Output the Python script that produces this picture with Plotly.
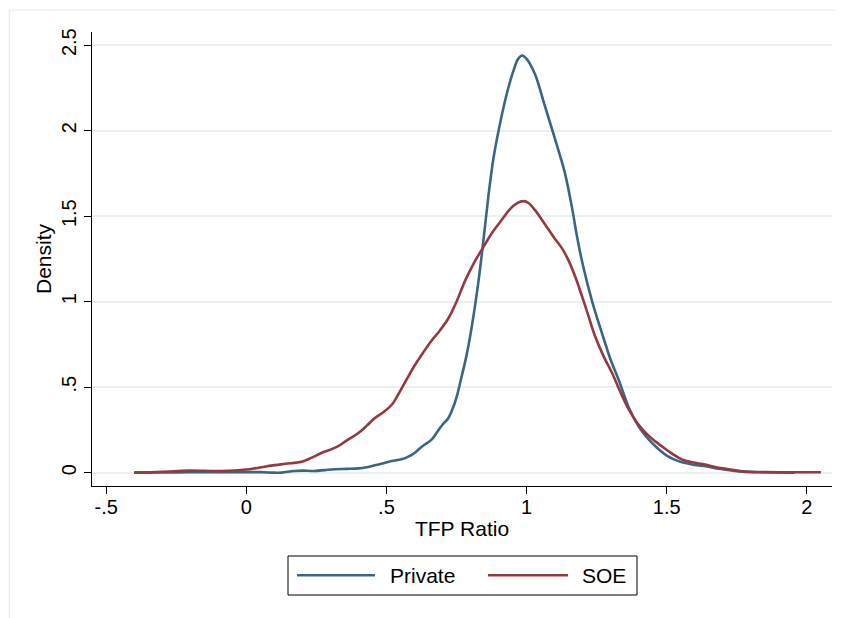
import plotly.graph_objects as go

# ---- data ----
private_x = [-0.40, -0.30, -0.20, -0.10, 0.00, 0.05, 0.10, 0.125, 0.17, 0.20, 0.243, 0.28, 0.315, 0.36,
             0.40, 0.43, 0.459, 0.49, 0.519, 0.554, 0.58, 0.60, 0.626, 0.662, 0.686, 0.70, 0.721, 0.733,
             0.75, 0.765, 0.785, 0.805, 0.829, 0.846, 0.864, 0.88, 0.90, 0.93, 0.955, 0.97, 0.984,
             1.00, 1.03, 1.066, 1.10, 1.12, 1.137, 1.162, 1.18, 1.20, 1.234, 1.27, 1.30, 1.329, 1.365,
             1.40, 1.43, 1.45, 1.472, 1.50, 1.544, 1.60, 1.627, 1.70, 1.77, 1.85, 1.955]
private_y = [0.000, 0.001, 0.002, 0.002, 0.003, 0.003, 0.000, 0.000, 0.010, 0.012, 0.010, 0.015, 0.020, 0.022,
             0.025, 0.032, 0.043, 0.055, 0.068, 0.078, 0.095, 0.115, 0.152, 0.195, 0.250, 0.280, 0.320, 0.360,
             0.440, 0.540, 0.680, 0.860, 1.127, 1.360, 1.620, 1.820, 2.000, 2.220, 2.360, 2.420, 2.440,
             2.420, 2.330, 2.140, 1.960, 1.850, 1.750, 1.550, 1.380, 1.220, 1.000, 0.810, 0.660, 0.540, 0.380,
             0.270, 0.205, 0.170, 0.135, 0.100, 0.066, 0.045, 0.040, 0.020, 0.006, 0.002, 0.000]

soe_x = [-0.40, -0.30, -0.209, -0.15, -0.089, -0.041, 0.00, 0.03, 0.06, 0.089, 0.14, 0.197, 0.23, 0.268,
         0.30, 0.328, 0.36, 0.40, 0.43, 0.459, 0.49, 0.519, 0.543, 0.572, 0.60, 0.63, 0.66, 0.69, 0.72,
         0.75, 0.78, 0.81, 0.846, 0.88, 0.912, 0.94, 0.965, 0.99, 1.007, 1.03, 1.055, 1.079, 1.10,
         1.127, 1.15, 1.175, 1.198, 1.22, 1.245, 1.275, 1.305, 1.335, 1.365, 1.395, 1.424, 1.45, 1.484,
         1.52, 1.556, 1.60, 1.627, 1.70, 1.77, 1.85, 1.95, 2.05]
soe_y = [0.000, 0.005, 0.012, 0.011, 0.009, 0.012, 0.018, 0.025, 0.033, 0.041, 0.052, 0.064, 0.085, 0.115,
         0.135, 0.155, 0.190, 0.232, 0.275, 0.320, 0.355, 0.397, 0.460, 0.545, 0.625, 0.700, 0.770, 0.830, 0.900,
         1.000, 1.120, 1.220, 1.320, 1.410, 1.480, 1.540, 1.575, 1.588, 1.577, 1.535, 1.478, 1.420, 1.370,
         1.310, 1.240, 1.140, 1.030, 0.920, 0.795, 0.680, 0.583, 0.470, 0.368, 0.290, 0.234, 0.195, 0.152,
         0.110, 0.076, 0.058, 0.050, 0.025, 0.008, 0.003, 0.002, 0.002]

x_tickvals = [-0.5, 0, 0.5, 1, 1.5, 2]
x_ticktext = ["-.5", "0", ".5", "1", "1.5", "2"]
y_tickvals = [0, 0.5, 1, 1.5, 2, 2.5]
y_ticktext = ["0", ".5", "1", "1.5", "2", "2.5"]

series_names = ["Private", "SOE"]
BLUE = "#3b6683"
RED = "#923a40"
FONT = "Liberation Sans, Arial, Helvetica, sans-serif"

fig = go.Figure()
fig.add_trace(go.Scatter(x=private_x, y=private_y, mode="lines", name=series_names[0],
                         line=dict(color=BLUE, width=2.6, shape="spline", smoothing=1.0)))
fig.add_trace(go.Scatter(x=soe_x, y=soe_y, mode="lines", name=series_names[1],
                         line=dict(color=RED, width=2.6, shape="spline", smoothing=1.0)))

OFF = 8  # page body margin
W, H = 843, 618
L = 92 - OFF
T = 32 - OFF
R = W - (832 - OFF)
B = H - (486 - OFF)
pw, ph = W - L - R, H - T - B

def px(xp):  # page pixel -> paper x
    return (xp - OFF - L) / pw

def py(yp):  # page pixel -> paper y
    return (486 - yp) / ph

shapes = [
    # outer frame
    dict(type="rect", xref="paper", yref="paper", x0=px(9.3), x1=px(860), y0=py(10), y1=py(640),
         line=dict(color="#e4ecef", width=1), fillcolor="rgba(0,0,0,0)", layer="below"),
    # legend box
    dict(type="rect", xref="paper", yref="paper", x0=px(288), x1=px(637), y0=py(556), y1=py(595),
         line=dict(color="black", width=1), fillcolor="white"),
    dict(type="line", xref="paper", yref="paper", x0=px(297), x1=px(375), y0=py(575.3), y1=py(575.3),
         line=dict(color=BLUE, width=2.6)),
    dict(type="line", xref="paper", yref="paper", x0=px(488), x1=px(568), y0=py(575.3), y1=py(575.3),
         line=dict(color=RED, width=2.6)),
]
annotations = [
    dict(text=series_names[0], xref="paper", yref="paper", x=px(388), y=py(575.3), xanchor="left",
         yanchor="middle", showarrow=False, font=dict(family=FONT, size=21, color="black")),
    dict(text=series_names[1], xref="paper", yref="paper", x=px(580), y=py(575.3), xanchor="left",
         yanchor="middle", showarrow=False, font=dict(family=FONT, size=21, color="black")),
]

fig.update_layout(
    width=W, height=H,
    margin=dict(l=L, r=R, t=T, b=B),
    paper_bgcolor="white", plot_bgcolor="white",
    showlegend=False,
    font=dict(family=FONT, size=20, color="black"),
    shapes=shapes, annotations=annotations,
    xaxis=dict(range=[-0.5505, 2.0896], tickvals=x_tickvals, ticktext=x_ticktext,
               showgrid=False, zeroline=False, showline=True, linecolor="black", linewidth=1,
               ticks="outside", ticklen=7, tickwidth=1, tickcolor="black",
               tickfont=dict(size=20), automargin=False, ticklabelstandoff=-4,
               title=dict(text="TFP Ratio", font=dict(size=21), standoff=4)),
    yaxis=dict(range=[-0.078, 2.577], tickvals=y_tickvals, ticktext=y_ticktext,
               showgrid=True, gridcolor="#e9f0f2", gridwidth=1.5, zeroline=False,
               showline=True, linecolor="black", linewidth=1,
               ticks="outside", ticklen=7, tickwidth=1, tickcolor="black",
               tickangle=-90, tickfont=dict(size=20), automargin=False,
               title=dict(text="Density", font=dict(size=21), standoff=0)),
)

fig.write_html("out.html")
